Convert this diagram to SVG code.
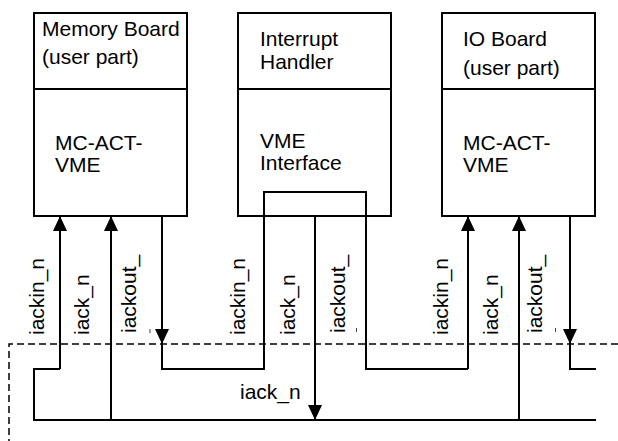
<svg xmlns="http://www.w3.org/2000/svg" width="618" height="441" viewBox="0 0 618 441">
<style>
.box{fill:#fff;stroke:#000;stroke-width:2}
.ln{fill:none;stroke:#000;stroke-width:2}
.dash{fill:none;stroke:#000;stroke-width:1.5;stroke-dasharray:7 4}
text{font-family:"Liberation Sans",Arial,sans-serif;font-size:21px;fill:#000}
.frag{fill:#444}
</style>
<defs>
<marker id="ah" viewBox="0 0 15 14" markerWidth="15" markerHeight="14" refX="15" refY="7" orient="auto" markerUnits="userSpaceOnUse">
<path d="M0,0 L15,7 L0,14 z" fill="#000"/>
</marker>
</defs>
<g id="memory-board">
<rect class="box" x="34" y="13" width="153" height="203"/>
<line class="ln" x1="34" y1="89" x2="187" y2="89"/>
<text x="42" y="36">Memory Board</text>
<text x="42" y="64">(user part)</text>
<text x="55" y="150">MC-ACT-</text>
<text x="55" y="172">VME</text>
</g>
<g id="interrupt-handler">
<rect class="box" x="238" y="13" width="153" height="203"/>
<line class="ln" x1="238" y1="89" x2="391" y2="89"/>
<text x="260" y="46">Interrupt</text>
<text x="260" y="69">Handler</text>
<text x="260" y="148">VME</text>
<text x="260" y="170">Interface</text>
<polyline class="ln" points="264,216 264,192 366,192 366,216"/>
</g>
<g id="io-board">
<rect class="box" x="442" y="13" width="153" height="203"/>
<line class="ln" x1="442" y1="89" x2="595" y2="89"/>
<text x="463" y="46">IO Board</text>
<text x="463" y="75">(user part)</text>
<text x="463" y="150">MC-ACT-</text>
<text x="463" y="172">VME</text>
</g>
<g id="boundary">
<polyline class="dash" points="618,344 9,344 9,441"/>
</g>
<g id="connectors">
<line class="ln" x1="60" y1="369" x2="60" y2="216" marker-end="url(#ah)"/>
<polyline class="ln" points="60,369 34,369 34,420 596,420"/>
<line class="ln" x1="111" y1="420" x2="111" y2="216" marker-end="url(#ah)"/>
<line class="ln" x1="162" y1="216" x2="162" y2="344" marker-end="url(#ah)"/>
<polyline class="ln" points="162,344 162,369 264,369 264,216"/>
<line class="ln" x1="315" y1="216" x2="315" y2="420" marker-end="url(#ah)"/>
<polyline class="ln" points="366,216 366,369 468,369"/>
<line class="ln" x1="468" y1="369" x2="468" y2="216" marker-end="url(#ah)"/>
<line class="ln" x1="519" y1="420" x2="519" y2="216" marker-end="url(#ah)"/>
<line class="ln" x1="570" y1="216" x2="570" y2="344" marker-end="url(#ah)"/>
<polyline class="ln" points="570,344 570,369 596,369"/>
</g>
<g id="labels">
<text transform="translate(43.5,335) rotate(-90)">iackin_n</text>
<text transform="translate(89,335) rotate(-90)">iack_n</text>
<text transform="translate(135.5,333) rotate(-90)">iackout_</text>
<text transform="translate(244.5,335) rotate(-90)">iackin_n</text>
<text transform="translate(294.5,335) rotate(-90)">iack_n</text>
<text transform="translate(344.5,333) rotate(-90)">iackout_</text>
<text transform="translate(448,335) rotate(-90)">iackin_n</text>
<text transform="translate(498,335) rotate(-90)">iack_n</text>
<text transform="translate(542,333) rotate(-90)">iackout_</text>
<text x="240" y="399">iack_n</text>
<rect class="frag" x="149.5" y="329" width="1" height="4"/>
<rect class="frag" x="356" y="328" width="1" height="4"/>
<rect class="frag" x="555" y="328" width="1" height="4"/>
</g>
</svg>
